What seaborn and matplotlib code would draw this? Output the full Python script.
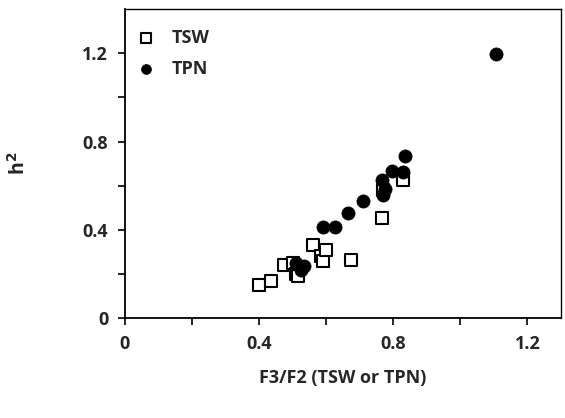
import pandas as pd
import matplotlib.pyplot as plt
import seaborn as sns

# -------------------- DATA --------------------
tsw_x = [0.40, 0.435, 0.475, 0.50, 0.51, 0.515, 0.56, 0.585, 0.59, 0.60, 0.675, 0.765, 0.77, 0.83]
tsw_y = [0.15, 0.17, 0.24, 0.25, 0.20, 0.19, 0.33, 0.28, 0.26, 0.31, 0.265, 0.455, 0.58, 0.625]

tpn_x = [0.51, 0.525, 0.535, 0.59, 0.625, 0.665, 0.71, 0.765, 0.77, 0.775, 0.795, 0.83, 0.835, 1.105]
tpn_y = [0.25, 0.22, 0.235, 0.415, 0.415, 0.475, 0.53, 0.625, 0.56, 0.585, 0.665, 0.66, 0.735, 1.195]

ticks = [0, 0.2, 0.4, 0.6, 0.8, 1.0, 1.2]
tick_labels = ["0", "", "0.4", "", "0.8", "", "1.2"]

df = pd.concat([
    pd.DataFrame({"x": tsw_x, "y": tsw_y, "group": "TSW"}),
    pd.DataFrame({"x": tpn_x, "y": tpn_y, "group": "TPN"}),
])

# -------------------- PLOT --------------------
sns.set_style("white")
plt.rcParams["font.family"] = ["Open Sans", "DejaVu Sans"]
plt.rcParams["font.weight"] = "bold"

fig = plt.figure(figsize=(5.65, 4.18), dpi=100)
ax = fig.add_axes([0.221, 0.239, 0.772, 0.739])

sns.scatterplot(data=df[df.group == "TSW"], x="x", y="y", marker="s", s=85,
                facecolor="white", edgecolor="black", linewidth=1.5,
                label="TSW", ax=ax, zorder=2)
sns.scatterplot(data=df[df.group == "TPN"], x="x", y="y", marker="o", s=90,
                color="black", edgecolor="black", linewidth=0.5,
                label="TPN", ax=ax, zorder=3)

ax.set_xlim(0, 1.3)
ax.set_ylim(0, 1.4)
ax.set_xticks(ticks)
ax.set_xticklabels(tick_labels)
ax.set_yticks(ticks)
ax.set_yticklabels(tick_labels)
ax.tick_params(direction="out", length=5, width=1.2, color="black",
               labelsize=13, bottom=True, left=True, pad=7)
for lbl in ax.get_xticklabels() + ax.get_yticklabels():
    lbl.set_fontweight("bold")

for sp in ax.spines.values():
    sp.set_color("black")
    sp.set_linewidth(1.0)
ax.spines["bottom"].set_linewidth(1.3)
ax.spines["left"].set_linewidth(1.3)

ax.set_xlabel("F3/F2 (TSW or TPN)", fontsize=13, fontweight="bold", labelpad=12)
ax.set_ylabel("h$^\\mathbf{2}$", fontsize=14, fontweight="bold", labelpad=38)

leg = ax.legend(loc="upper left", frameon=False, fontsize=13, handletextpad=0.4,
                bbox_to_anchor=(-0.03, 0.99), labelspacing=0.75, markerscale=0.75)
for t in leg.get_texts():
    t.set_fontweight("bold")

plt.savefig("out.png", dpi=100)
